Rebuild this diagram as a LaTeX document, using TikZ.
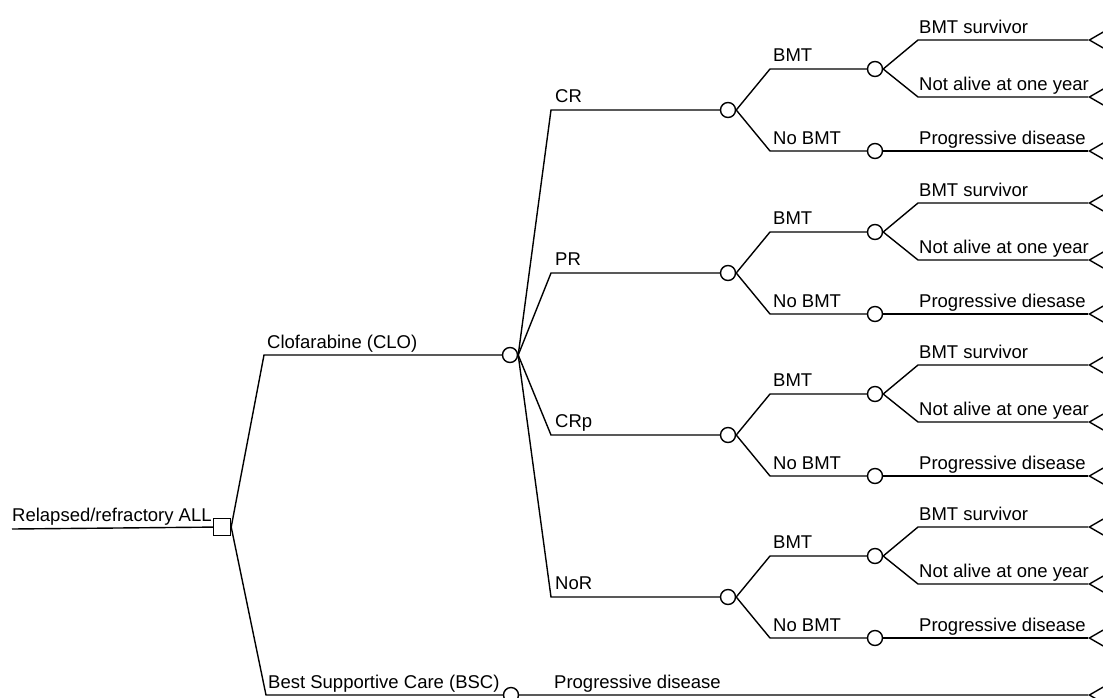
\documentclass[tikz,border=0pt]{standalone}
\usepackage{fontspec}
\setmainfont{Liberation Sans}
\usetikzlibrary{shapes.geometric}
\tikzset{
  chance/.style={circle,draw,line width=1.4pt,fill=white,inner sep=0pt,minimum size=15pt},
  decision/.style={rectangle,draw,line width=1.4pt,fill=white,inner sep=0pt,minimum size=17pt},
  terminal/.style={isosceles triangle,isosceles triangle apex angle=60,shape border rotate=180,
    draw,line width=1.4pt,inner sep=0pt,minimum height=20pt,anchor=apex},
  branch/.style={line width=1.4pt},
  lbl/.style={anchor=base west,inner sep=0pt,font=\fontsize{18.5}{20}\selectfont}
}

\begin{document}
\begin{tikzpicture}[x=1pt,y=-1pt]
 \useasboundingbox (0,0) rectangle (1103,697);
 \clip (0,0) rectangle (1103,697);
 % decision and the two strategies
 \coordinate (root) at (12,529);
 \node[decision] (dec) at (222,527) {};
 \draw[branch] (root) -- (dec);
 \node[lbl] at (12,521) {Relapsed/refractory ALL};
 \coordinate (clo) at (264,355);
 \node[chance] (cloC) at (510,355) {};
 \draw[branch] (dec.east) -- (clo) -- (cloC);
 \node[lbl] at (267,348) {Clofarabine (CLO)};
 \coordinate (bsc) at (266,695);
 \node[chance] (bscC) at (511,695) {};
 \node[terminal] (bscT) at (1088,695) {};
 \draw[branch] (dec.east) -- (bsc) -- (bscC) -- (bscT.apex);
 \node[lbl] at (268,688) {Best Supportive Care (BSC)};
 \node[lbl] at (554,688) {Progressive disease};
 % responses to clofarabine
 \foreach \nm/\lab/\yy/\pd in {cr/CR/110/Progressive disease, pr/PR/273/Progressive diesase,
     crp/CRp/435/Progressive disease, nor/NoR/597/Progressive disease} {
  \coordinate (\nm) at (551,\yy);
  \node[chance] (\nm C) at (728,\yy) {};
  \draw[branch] (cloC.east) -- (\nm) -- (\nm C);
  \node[lbl] at (555,\yy-8) {\lab};
  \coordinate (\nm b) at (770,\yy-41);
  \coordinate (\nm n) at (770,\yy+41);
  \node[chance] (\nm bC) at (875,\yy-41) {};
  \node[chance] (\nm nC) at (875,\yy+41) {};
  \draw[branch] (\nm C.east) -- (\nm b) -- (\nm bC);
  \draw[branch] (\nm C.east) -- (\nm n) -- (\nm nC);
  \node[lbl] at (773,\yy-49) {BMT};
  \node[lbl] at (773,\yy+34) {No BMT};
  \coordinate (\nm s) at (918,\yy-70);
  \coordinate (\nm d) at (918,\yy-13);
  \node[terminal] (\nm sT) at (1088,\yy-70) {};
  \node[terminal] (\nm dT) at (1088,\yy-13) {};
  \node[terminal] (\nm pT) at (1088,\yy+41) {};
  \draw[branch] (\nm bC.east) -- (\nm s) -- (\nm sT.apex);
  \draw[branch] (\nm bC.east) -- (\nm d) -- (\nm dT.apex);
  \draw[branch] (\nm nC) -- (\nm pT.apex);
  \node[lbl] at (919,\yy-77) {BMT survivor};
  \node[lbl] at (919,\yy-20) {Not alive at one year};
  \node[lbl] at (919,\yy+34) {\pd};
 }
\end{tikzpicture}
\end{document}
